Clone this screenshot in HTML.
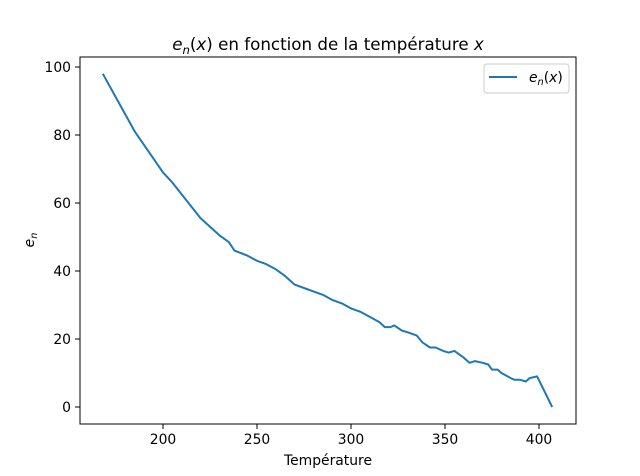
<!DOCTYPE html>
<html><head><meta charset="utf-8"><style>
body{margin:0;background:#fff;}
svg{display:block;font-family:"DejaVu Sans","Liberation Sans",sans-serif;}
</style></head><body>
<svg id="c" width="640" height="476"></svg>
<script>
const xs=[168,175,180,185,190,195,200,205,210,215,220,225,230,235,238,245,250,255,260,265,270,275,280,285,290,295,300,305,310,315,318,321,323,327,330,335,338,342,345,349,352,355,360,363,366,370,373,375,378,380,385,387,390,393,395,399,407];
const ys=[98,91,86,81,77,73,69,66,62.5,59,55.5,53,50.5,48.5,46,44.5,43,42,40.5,38.5,36,35,34,33,31.5,30.5,29,28,26.5,25,23.5,23.5,24,22.5,22,21,19,17.5,17.5,16.5,16,16.5,14.5,13,13.5,13,12.5,11,11,10,8.5,8,8,7.5,8.5,9,0];
const xTicks=[200,250,300,350,400];
const yTicks=[0,20,40,60,80,100];
const L=80,R=576,T=57,B=424;
const X=v=>163+(v-200)*1.88;
const Y=v=>407-v*3.4;
const s=document.getElementById('c');const NS='http://www.w3.org/2000/svg';
function mk(t,a,p){const e=document.createElementNS(NS,t);for(const k in a)e.setAttribute(k,a[k]);(p||s).appendChild(e);return e;}
const line=mk('polyline',{points:xs.map((x,i)=>X(x)+','+Y(ys[i])).join(' '),fill:'none',stroke:'#1f77b4','stroke-width':2,'stroke-linejoin':'round'});


const fr=mk('rect',{x:L,y:T,width:R-L,height:B-T,fill:'none',stroke:'#000','stroke-width':1});


xTicks.forEach(v=>{mk('line',{x1:X(v),x2:X(v),y1:B,y2:B+5,stroke:'#000','stroke-width':1});
const t=mk('text',{x:X(v),y:B+20,'text-anchor':'middle','font-size':13.9});t.textContent=v;

});
yTicks.forEach(v=>{mk('line',{x1:L-5,x2:L,y1:Y(v),y2:Y(v),stroke:'#000','stroke-width':1});
const t=mk('text',{x:L-9,y:Y(v)+5,'text-anchor':'end','font-size':13.9});t.textContent=v;

});
</script>
<svg width="640" height="476" style="position:absolute;left:0;top:0">
<text x="328" y="50" text-anchor="middle" font-size="16.7" font-family="DejaVu Sans,sans-serif"><tspan font-style="italic">e</tspan><tspan font-style="italic" font-size="11.7" dy="4">n</tspan><tspan dy="-4">(</tspan><tspan font-style="italic">x</tspan>) en fonction de la température <tspan font-style="italic">x</tspan></text>
<text x="328" y="465" text-anchor="middle" font-size="13.9" font-family="DejaVu Sans,sans-serif">Température</text>
<text transform="translate(34,240) rotate(-90)" text-anchor="middle" font-size="13.9" font-style="italic" font-family="DejaVu Sans,sans-serif">e<tspan font-size="9.7" dy="3">n</tspan></text>
<g>
<rect x="484" y="64" width="85" height="29" rx="3" fill="#fff" stroke="#ccc" stroke-width="1"/>
<line x1="489" x2="517" y1="77" y2="77" stroke="#1f77b4" stroke-width="2"/>
<text x="529" y="82" font-size="13.9" font-family="DejaVu Sans,sans-serif"><tspan font-style="italic">e</tspan><tspan font-style="italic" font-size="9.7" dy="3">n</tspan><tspan dy="-3">(</tspan><tspan font-style="italic">x</tspan>)</text>
</g>
</svg>
</body></html>
